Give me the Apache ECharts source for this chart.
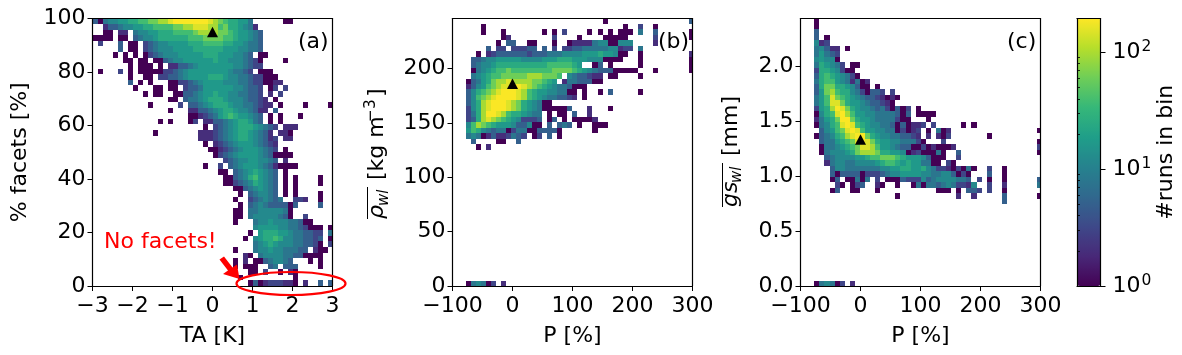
<!DOCTYPE html>
<html><head><meta charset="utf-8">
<style>html,body{margin:0;padding:0;background:#fff}#c{width:1182px;height:355px}</style>
<script src="https://cdn.jsdelivr.net/npm/echarts@6/dist/echarts.min.js"></script>
</head><body><div id="c"></div>
<script>
// Each character in a row is one histogram bin: '.' is empty, otherwise an index into levelValues.
const levelCodes = '123456789abcd';
const levelValues = [1,2,3,5,8,12,17,25,38,60,95,150,190];

const rowsA = [
"4156677889 9aabbcdddd dddcba9887 75......11",
"..24456677 889999aabb cccbb9a887 652",
"..11.22.56 6778889999 abbbbaa987 7654",
"1111.11.45 6678888889 99aaaa9987 7654",
".3...4.11. 3456677778 8899998877 6554",
".....4.11. 3456667777 8888887776 6554",
"....1.1.1. 1345666777 7788877766 54.11",
"......11.1 1.11456677 7777877666 5431....1.",
".......1.1 11.1.22445 6777777766 5433",
".1...3.1.1 1111334567 7777777655 43.111",
".......1.. 11.3344567 7778887665 5433111",
".......4.1 .1...11334 5677776665 54331122",
"........1. ..11.11.34 4577777766 5443.13.3",
".......... 1.11..1144 5677877665 5443.2.3",
".......... .....11.45 5678887666 54432.1",
".......... .1.....3.4 4567888766 554322.1.. ..1....1",
".......... .....1...2 2445678876 65422.4",
".......... .........1 1234578987 7654.1.1.. .1",
".......... ...1.1...1 3.22445678 8754.1.1",
".......... .......... ..1.345678 8876543.22 2",
".......... ..1....... .222345678 876542.221",
".......... .......... .222345678 8765423.22",
".......... .......... ..1.234567 7765432",
".......... .......... ...1123456 7776543.1",
".......... .......... ....134567 7776541111",
".......... .......... ......3456 6776654.2",
".......... .......... ..1..3.456 7776542111 1",
".......... .......... .....11.45 6787654.1",
".......... .......... ......1145 6897654.1. 1....1",
".......... .......... ......1134 5687654.1. 1....1",
".......... .......... ........11 4567654.1. 1",
".......... .......... .........1 .456654.1. 1....1",
".......... .......... ........1. .3456545.. 332..1",
".......... .......... .........1 .456544441 4....4",
".......... .......... ........11 .556666651",
".......... .......... ........11 .566666541 ..3",
".......... .......... ........1. ..56676665 5411",
".......... .......... .......... ..67777665 543111.1",
".......... .......... .......... .1.7888776 554433.5",
".......... .......... .......... 1.67889866 554434.1",
".......... .......... .......... ..56787666 554431.3",
".......... .......... ........1. ..56676655 544.211",
".......... .......... .......... 21.5666655 441111",
".......... .......... ........1. 2.11456654 ...1.1",
".......... .......... ........1. 111..45.44 4....1",
".......... .......... .......... .11.3..1.2 1",
".......... .......... .........1 .......... 1",
".......... .......... .......... .141233322 1.2..4.4"
];

const rowsB = [
".......... .......... .......1.. .......... ....4",
"...1...... .......... .......... .1..3..1",
"...1...1.. .....1.1.3 ....1.1.1. 111.5..4.. ....1",
".......12. .......3.. ..1....111 11.....3.. ....1",
"......1.44 ..11...1.. 1222256611 666....2",
"....4.33.3 3344.4.3.3 3445555566 233.5",
"..1.234444 4434445556 6667778776 11..1..... ....2",
".445667777 7666677788 8777666111 1...1..... ....1",
".456678888 8888889999 987..14.1. ....1..... ....1",
".1567899a9 9999999aaa a987654441 1111...1.. ....1",
".567899aaa aabbbaaa9. 6544322.11 ....1",
"14578abbcb bbbaa987.2 5544411",
"24679abccd dcba987655 4111",
"4689abcddd cb98776655 11.1..1.4. ....1",
"469abcdddd cb98765544 32.1",
"468bcdddcb a876511",
"368bcdddcb a876511111 4...2...1",
"358bddcb98 87655.1.11 .4..2",
"348bcba987 63334.14.1 .11112",
"69ba987776 44611.4.45 4.1..111",
"7986545513 55114444 1. .....1",
"5651242235 43.13.4.1",
".4....11.. 4",
"..1.2",
"","","","","","","","","","","","","","","","","","","","","","","","",
"15651 3.2"
];

const rowsC = [
"1","1","4","4.1","623","56422.1","57543","67661",
"587653.11",
"38876311",
"489876531",
"5899765251 2",
"48aa887641 1.1",
"47ab988653 1443.3",
"579ca98765 4432121",
"579cca8776 544321",
"378bdca876 654531413. 1",
"1689cdb977 6655554 14. 1111",
"2578adda87 7655553 11. ..1",
"15689cdc98 7665541412 23.3.....1 .1",
".4679acdc9 7766551312 3.1.512... .......... ....1",
"145689bcdd a876655443 2.2.213... ....1",
".45578 9acd ca87766555 31...3.... .......... ....1",
".155678 9ac cb97765441 13121112.. .......... ....3",
".1566678ab bba8877612 311151..4. .......... ....1",
"..45666677 899aaa9877 764111..3",
"..25665566 6678998787 75511.31",
"...4665555 5556677887 7865332131 51..3..1",
"...4144441 3334566777 7665566413 1...4..1",
"...14.1151 5.3.111433 3645666655 4.3.1..1.. ....4",
"....31.134 ..21..1..1 5155456533 26..3..2.. ....5",
"...14..11. ..1....... ....111.1. 443.3..1",
".......... ......1... ........2. .2.....4.. ....1",
".......... .......... .......... .......4",
"","","","","","","","","","","","","","",
"1565 13.2"
];

const medianA = [[0, 95]];
const medianB = [[0, 186]];
const medianC = [[0, 1.33]];

const xTicksA = [-3,-2,-1,0,1,2,3];
const yTicksA = [0,20,40,60,80,100];
const xTicksP = [-100,0,100,200,300];
const yTicksB = [0,50,100,150,200];
const yTicksC = [0,0.5,1,1.5,2];
const cbarMajor = [1,10,100];
const cbarMinor = [2,3,4,5,6,7,8,9,20,30,40,50,60,70,80,90];
const cbarMax = 195;
const viridis = ['#440154','#482878','#3e4989','#31688e','#26828e','#1f9e89','#35b779','#6ece58','#b5de2b','#fde725'];

const FONT = 'DejaVu Sans';
const FS = 22;

function decode(rows, nRows, xStart, xStep, yStep) {
  const out = [];
  rows.forEach((row, r) => {
    const cells = row.replace(/ /g, '');
    for (let c = 0; c < cells.length; c++) {
      const i = levelCodes.indexOf(cells[c]);
      if (i < 0) continue;
      const v = levelValues[i];
      const k = nRows - 1 - r;
      out.push([xStart + c * xStep, k * yStep, v, Math.log10(v), xStart + (c + 1) * xStep, (k + 1) * yStep]);
    }
  });
  return out;
}
function renderCell(params, api) {
  const a = api.coord([api.value(0), api.value(5)]);
  const b = api.coord([api.value(4), api.value(1)]);
  const x0 = Math.round(a[0]), y0 = Math.round(a[1]);
  const x1 = Math.round(b[0]), y1 = Math.round(b[1]);
  return { type: 'rect', shape: { x: x0, y: y0, width: x1 - x0, height: y1 - y0 }, style: { fill: api.visual('color') } };
}
const minus = v => String(v).replace('-', '\u2212');
const labelBase = { fontFamily: FONT, fontSize: FS, color: '#000' };

const grids = [], xAxes = [], yAxes = [], series = [];
function panel(cfg) {
  const g = grids.length;
  grids.push({ left: cfg.left, top: 18.5, width: cfg.width, height: 267.5, show: false });
  const line = { show: true, onZero: false, lineStyle: { color: '#000', width: 1.2 } };
  const tick = { show: true, length: 5, lineStyle: { color: '#000', width: 1 } };
  const xi = xAxes.length, yi = yAxes.length;
  xAxes.push({ gridIndex: g, type: 'value', position: 'bottom', min: cfg.xMin, max: cfg.xMax, z: 5,
    axisLine: line, axisTick: Object.assign({ customValues: cfg.xTicks }, tick),
    axisLabel: { customValues: cfg.xTicks, formatter: minus, margin: 9, ...labelBase, hideOverlap: false },
    splitLine: { show: false }, name: cfg.xName, nameLocation: 'middle', nameGap: 39,
    nameTextStyle: labelBase });
  xAxes.push({ gridIndex: g, type: 'value', position: 'top', min: cfg.xMin, max: cfg.xMax, z: 5,
    axisLine: line, axisTick: { show: false }, axisLabel: { show: false }, splitLine: { show: false } });
  yAxes.push({ gridIndex: g, type: 'value', position: 'left', min: 0, max: cfg.yMax, z: 5,
    axisLine: line, axisTick: Object.assign({ customValues: cfg.yTicks }, tick),
    axisLabel: { customValues: cfg.yTicks, formatter: cfg.yFmt, margin: 7, ...labelBase, hideOverlap: false },
    splitLine: { show: false }, name: cfg.yName || '', nameLocation: 'middle', nameGap: 61, nameTextStyle: labelBase });
  yAxes.push({ gridIndex: g, type: 'value', position: 'right', min: 0, max: cfg.yMax, z: 5,
    axisLine: line, axisTick: { show: false }, axisLabel: { show: false }, splitLine: { show: false } });
  series.push({ type: 'custom', xAxisIndex: xi, yAxisIndex: yi, clip: true, renderItem: renderCell, silent: true, z: 2,
    encode: { x: 0, y: 1 }, data: decode(cfg.rows, cfg.nRows, cfg.xStart, cfg.xStep, cfg.yMax / cfg.nRows) });
}
panel({ left: 92.5, width: 240, xMin: -3, xMax: 3, yMax: 100, xTicks: xTicksA, yTicks: yTicksA, yFmt: v => String(v),
  xName: 'TA [K]', yName: '% facets [%]', rows: rowsA, nRows: 48, xStart: -3, xStep: 0.125 });
panel({ left: 452.5, width: 240, xMin: -100, xMax: 300, yMax: 246, xTicks: xTicksP, yTicks: yTicksB, yFmt: v => String(v),
  xName: 'P [%]', rows: rowsB, nRows: 49, xStart: -78, xStep: 8.45 });
panel({ left: 800.5, width: 240, xMin: -100, xMax: 300, yMax: 2.43, xTicks: xTicksP, yTicks: yTicksC, yFmt: v => v.toFixed(1),
  xName: 'P [%]', rows: rowsC, nRows: 49, xStart: -77, xStep: 8.45 });

const heatSeries = [0, 1, 2];
[medianA, medianB, medianC].forEach((m, i) => {
  series.push({ type: 'scatter', xAxisIndex: i * 2, yAxisIndex: i * 2, data: m, symbol: 'triangle', symbolSize: [11, 10.5], silent: true,
    itemStyle: { color: '#000', opacity: 1 }, z: 4, clip: false });
});

// colorbar frame and log axis
const cg = grids.length;
grids.push({ left: 1077, top: 18.5, width: 23.5, height: 267.5, show: false });
const cbLine = { show: true, onZero: false, lineStyle: { color: '#000', width: 1.2 } };
xAxes.push({ gridIndex: cg, type: 'value', position: 'bottom', min: 0, max: 1, z: 7, axisLine: cbLine, axisTick: { show: false }, axisLabel: { show: false }, splitLine: { show: false } });
xAxes.push({ gridIndex: cg, type: 'value', position: 'top', min: 0, max: 1, z: 7, axisLine: cbLine, axisTick: { show: false }, axisLabel: { show: false }, splitLine: { show: false } });
yAxes.push({ gridIndex: cg, type: 'log', logBase: 10, position: 'right', min: 1, max: cbarMax, z: 7, axisLine: cbLine,
  axisTick: { show: true, customValues: cbarMajor, length: 5, lineStyle: { color: '#000', width: 1 } },
  axisLabel: { customValues: cbarMajor, margin: 12, hideOverlap: false, ...labelBase,
    rich: { s: { fontFamily: FONT, fontSize: 15.5, color: '#000', padding: [0, 0, 10, 1] } },
    formatter: v => '10{s|' + Math.round(Math.log10(v)) + '}' },
  splitLine: { show: false }, minorTick: { show: false }, minorSplitLine: { show: false },
  name: '#runs in bin', nameLocation: 'middle', nameGap: 53, nameRotate: 90, nameTextStyle: labelBase });
yAxes.push({ gridIndex: cg, type: 'log', logBase: 10, position: 'right', min: 1, max: cbarMax, z: 7, axisLine: { show: false },
  axisTick: { show: true, customValues: cbarMinor, length: 3, lineStyle: { color: '#000', width: 0.8 } },
  axisLabel: { show: false }, splitLine: { show: false }, minorTick: { show: false } });
yAxes.push({ gridIndex: cg, type: 'log', logBase: 10, position: 'left', min: 1, max: cbarMax, z: 7, axisLine: cbLine,
  axisTick: { show: false }, axisLabel: { show: false }, splitLine: { show: false }, minorTick: { show: false } });

const txt = (x, y, text, extra) => ({ type: 'text', x, y, z: 20, style: Object.assign({ text, fontFamily: FONT, fontSize: FS, fill: '#000', verticalAlign: 'middle' }, extra || {}) });
// rotated label pieces: y is the baseline, converted for middle-anchored text
const itext = (x, base, text, size, style) => ({ type: 'text', x, y: base - 0.34 * size, style: { text, fontFamily: FONT, fontSize: size, fontStyle: style || 'normal', fill: '#000', verticalAlign: 'middle' } });

const graphic = [
  txt(298, 42, '(a)'), txt(658, 42, '(b)'), txt(1007, 42, '(c)'),
  txt(104, 242, 'No facets!', { fill: '#ff0000' }),
  { type: 'ellipse', shape: { cx: 291, cy: 283.5, rx: 54.5, ry: 11.5 }, z: 20, style: { fill: 'none', stroke: '#ff0000', lineWidth: 2.2 } },
  { type: 'polygon', z: 20, shape: { points: [[219.5, 259.5], [224, 256.5], [232.5, 267.5], [237, 264.5], [239.5, 279], [223, 274], [228, 270.5]] }, style: { fill: '#ff0000' } },
  { type: 'group', x: 385, y: 219, rotation: Math.PI / 2, z: 20, children: [
    itext(0, 0, '\u03c1', FS, 'italic'), itext(13, 4, 'wl', 15, 'italic'),
    itext(39, 0, '[kg m', FS), itext(97, -9, '\u22123', 15.5), itext(122, 0, ']', FS),
    { type: 'line', shape: { x1: 0, y1: -17.5, x2: 32, y2: -17.5 }, style: { stroke: '#000', lineWidth: 1 } }
  ] },
  { type: 'group', x: 738.5, y: 207, rotation: Math.PI / 2, z: 20, children: [
    itext(0, 0, 'gs', FS, 'italic'), itext(24, 4, 'wl', 15, 'italic'),
    itext(51, 0, '[mm]', FS),
    { type: 'line', shape: { x1: 0, y1: -16, x2: 44, y2: -16 }, style: { stroke: '#000', lineWidth: 1 } }
  ] }
];

const chart = echarts.init(document.getElementById('c'), null, { renderer: 'canvas', width: 1182, height: 355 });
chart.setOption({
  animation: false, backgroundColor: '#fff',
  grid: grids, xAxis: xAxes, yAxis: yAxes, series, graphic: { elements: graphic },
  visualMap: { type: 'continuous', show: true, seriesIndex: heatSeries, dimension: 3, min: 0, max: Math.log10(cbarMax),
    left: 1077, top: 18.5, itemWidth: 23.5, itemHeight: 267.5, text: null, calculable: false, showLabel: false, padding: 0, hoverLink: false,
    inRange: { color: viridis }, textStyle: { fontSize: 0 }, z: 1, formatter: () => '' }
});
</script></body></html>
